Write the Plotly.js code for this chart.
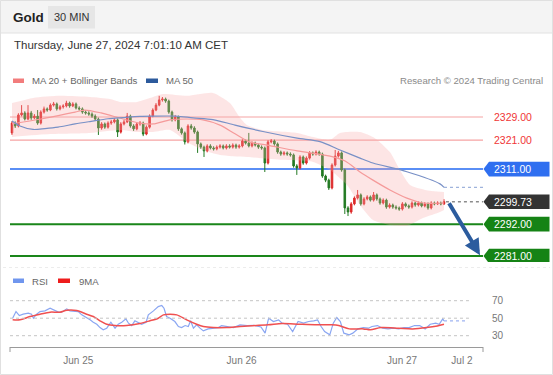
<!DOCTYPE html>
<html>
<head>
<meta charset="utf-8">
<script src="https://cdn.plot.ly/plotly-3.0.1.min.js"></script>
<style>
html,body{margin:0;padding:0;background:#fff;}
#chart{width:553px;height:375px;}
</style>
</head>
<body>
<div id="chart"></div>
<script>
// ---------- DATA (30-min candles) ----------
const openP = [2323.5,2326.9,2325.9,2329.7,2330.4,2328.3,2330.4,2328.7,2329.3,2326.9,
2330.7,2331.8,2331.4,2333.1,2333.5,2331.8,2332.5,2332.8,2333.8,2332.8,
2333.5,2332.1,2331.8,2330.7,2330.4,2330.0,2329.3,2328.3,2325.2,2326.6,
2325.5,2326.9,2327.3,2328.0,2323.8,2326.6,2327.3,2329.3,2325.9,2324.9,
2326.6,2326.9,2323.1,2325.5,2329.3,2331.4,2333.1,2334.9,2335.2,2334.5,
2330.7,2328.0,2329.0,2324.9,2323.5,2320.4,2325.9,2325.2,2323.8,2319.7,
2318.6,2317.3,2319.0,2318.3,2318.0,2318.6,2319.0,2318.3,2319.0,2318.6,
2319.3,2318.6,2319.0,2320.7,2320.0,2319.0,2320.0,2319.3,2318.6,2318.3,
2313.1,2320.4,2320.7,2319.7,2316.9,2316.2,2316.6,2316.2,2315.9,2312.1,
2311.4,2315.2,2313.1,2314.8,2316.6,2316.2,2316.9,2316.2,2308.6,2307.2,
2304.5,2312.4,2315.5,2316.6,2310.7,2297.6,2296.2,2299.0,2301.0,2302.1,
2299.0,2300.7,2301.4,2300.3,2302.1,2300.7,2299.3,2300.3,2297.9,2298.6,
2297.9,2297.6,2297.2,2299.0,2298.3,2297.9,2299.3,2298.6,2299.3,2298.3,
2299.0,2297.6,2299.3,2299.0,2299.3,2299.0];
const highP = [2327.6,2327.5,2330.3,2333.1,2331.0,2333.1,2331.1,2330.0,2331.4,2331.3,
2332.6,2332.3,2333.7,2334.2,2334.0,2333.1,2333.4,2334.6,2334.3,2334.1,
2334.0,2332.7,2332.3,2331.3,2331.0,2330.6,2329.9,2328.8,2327.2,2327.1,
2327.5,2328.0,2328.6,2328.5,2327.2,2328.0,2330.4,2329.8,2326.5,2327.2,
2327.6,2327.4,2326.1,2329.9,2332.0,2333.8,2336.3,2335.9,2335.7,2335.0,
2331.2,2329.7,2329.5,2325.4,2324.0,2326.5,2326.6,2325.8,2324.3,2320.2,
2319.1,2319.6,2319.6,2318.9,2319.2,2319.6,2319.5,2319.6,2319.6,2319.9,
2319.8,2319.6,2321.3,2321.2,2323.5,2320.6,2320.5,2319.8,2319.2,2318.8,
2321.0,2321.4,2321.2,2320.2,2317.4,2317.2,2317.1,2316.8,2316.4,2312.7,
2315.8,2315.7,2315.4,2317.2,2317.1,2317.5,2317.4,2316.7,2309.1,2307.7,
2313.0,2317.6,2317.3,2317.1,2311.2,2298.2,2299.6,2301.6,2303.8,2302.6,
2301.3,2302.0,2301.9,2303.1,2302.6,2301.2,2300.9,2300.8,2299.2,2299.1,
2298.5,2298.1,2299.6,2299.5,2298.8,2299.9,2299.8,2299.9,2299.8,2299.6,
2299.5,2299.9,2299.8,2299.9,2299.8,2300.6];
const lowP = [2322.8,2325.2,2325.4,2329.2,2327.8,2327.9,2328.0,2328.2,2326.3,2326.4,
2330.2,2330.8,2331.0,2332.6,2331.2,2331.3,2331.9,2332.3,2332.2,2332.4,
2331.6,2331.2,2330.1,2329.8,2329.4,2328.7,2327.6,2322.8,2324.6,2324.9,
2325.0,2326.3,2326.8,2322.1,2323.3,2326.1,2326.9,2325.3,2324.2,2324.4,
2326.0,2322.4,2322.7,2325.0,2328.9,2331.0,2332.7,2334.3,2333.9,2330.1,
2327.4,2327.5,2324.2,2322.9,2319.5,2319.9,2324.6,2323.2,2316.6,2318.0,
2315.2,2316.8,2317.8,2317.4,2317.5,2318.1,2317.8,2317.8,2318.1,2318.1,
2318.0,2318.1,2318.5,2319.5,2318.5,2318.5,2318.8,2318.0,2317.7,2310.0,
2312.6,2319.9,2319.1,2316.3,2315.6,2315.7,2315.6,2315.3,2311.5,2309.0,
2310.9,2312.5,2312.6,2314.3,2315.6,2315.7,2315.6,2308.0,2306.5,2303.8,
2304.0,2311.9,2315.0,2310.1,2295.5,2294.8,2295.6,2298.5,2300.5,2298.4,
2298.5,2300.2,2299.8,2299.8,2300.1,2298.7,2298.8,2297.3,2297.4,2297.3,
2297.0,2296.6,2296.7,2297.8,2297.3,2297.4,2298.0,2298.1,2297.8,2297.8,
2297.0,2297.1,2298.5,2298.6,2298.5,2298.6];
const closeP = [2326.9,2325.9,2329.7,2330.4,2328.3,2330.4,2328.7,2329.3,2326.9,2330.7,
2331.8,2331.4,2333.1,2333.5,2331.8,2332.5,2332.8,2333.8,2332.8,2333.5,
2332.1,2331.8,2330.7,2330.4,2330.0,2329.3,2328.3,2325.2,2326.6,2325.5,
2326.9,2327.3,2328.0,2323.8,2326.6,2327.3,2329.3,2325.9,2324.9,2326.6,
2326.9,2323.1,2325.5,2329.3,2331.4,2333.1,2334.9,2335.2,2334.5,2330.7,
2328.0,2329.0,2324.9,2323.5,2320.4,2325.9,2325.2,2323.8,2319.7,2318.6,
2317.3,2319.0,2318.3,2318.0,2318.6,2319.0,2318.3,2319.0,2318.6,2319.3,
2318.6,2319.0,2320.7,2320.0,2319.0,2320.0,2319.3,2318.6,2318.3,2313.1,
2320.4,2320.7,2319.7,2316.9,2316.2,2316.6,2316.2,2315.9,2312.1,2311.4,
2315.2,2313.1,2314.8,2316.6,2316.2,2316.9,2316.2,2308.6,2307.2,2304.5,
2312.4,2315.5,2316.6,2310.7,2297.6,2296.2,2299.0,2301.0,2302.1,2299.0,
2300.7,2301.4,2300.3,2302.1,2300.7,2299.3,2300.3,2297.9,2298.6,2297.9,
2297.6,2297.2,2299.0,2298.3,2297.9,2299.3,2298.6,2299.3,2298.3,2299.0,
2297.6,2299.3,2299.0,2299.3,2299.0,2299.73];

// Indicators (candle index, value)
const ma20Idx = [0,9.1,19.7,22.8,27.8,34.7,40,44.1,49.4,54.7,59.7,65,69.7,74.4,79.7,89.1,99.4,104.1,108.75,112.8,118.1,123.4,128.4,135];
const ma20Val = [2326.6,2328.3,2330.7,2331.4,2330.4,2328.3,2326.9,2326.6,2328.0,2328.3,2328.0,2326.2,2323.2,2320.3,2319.3,2317.3,2315.5,2313.8,2310.0,2307.2,2303.8,2301.0,2299.3,2299.3];
const bbUpIdx = [0,6.6,15,24.4,30.6,33.75,39.1,44.1,47.2,54.7,62.8,68.1,71.25,73.4,78.4,89.1,94.1,99.4,102.5,108.75,113.4,118.1,121.25,124.4,129.1,135];
const bbUpVal = [2333.8,2335.6,2336.3,2335.9,2335.2,2334.2,2334.2,2335.9,2336.9,2336.3,2337.3,2333.8,2328.7,2326.2,2324.5,2323.5,2322.1,2321.1,2323.5,2323.8,2321.7,2316.9,2310.7,2305.5,2303.8,2303.1];
const bbLoIdx = [0,11.9,24.4,33.75,39.1,44.1,49.4,54.7,59.7,65,73.4,83.75,94.1,99.4,104.7,108.75,112.8,118.1,123.4,128.4,133.75,135];
const bbLoVal = [2322.1,2323.1,2323.5,2324.5,2323.8,2323.8,2324.5,2320.4,2317.6,2315.9,2315.2,2314.2,2313.5,2310.7,2305.5,2298.6,2293.4,2291.7,2291.4,2294.1,2296.2,2296.9];
const ma50Idx = [0,2.5,6.6,10.3,14.4,19.7,24.7,30,34.7,40,44.1,51.25,56.6,62.8,69.7,78.4,89.1,96.25,102.5,108.75,112.8,123.4,133.75,135];
const ma50Val = [2327.6,2325.9,2324.7,2325.0,2325.5,2326.6,2327.5,2328.4,2328.8,2329.2,2329.3,2329.3,2328.7,2328.1,2326.2,2324.0,2321.7,2320.5,2317.6,2314.8,2313.1,2310.1,2305.9,2304.7];

const rsiIdx = [0.2,1.25,2.3,3.5,5.1,6.1,6.7,7.7,8.75,10.3,11.9,12.9,14.5,15.5,17.1,18.1,19.7,20.7,21.8,23.3,
24.4,25.4,26.5,27.5,28.5,29.6,30.9,32.2,33.2,34.3,35.6,36.4,37.4,38.4,39.5,40.5,41.9,42.6,44.2,45.7,
46.8,47.5,48.3,49.4,50.9,52,53,54.1,55.1,55.8,56.7,57.7,58.75,59.8,61.3,62.9,64.5,65.5,67.1,69.2,
71.25,73.5,75.6,77.8,79.1,80.2,81.7,83.3,84.4,86.1,87.7,89.4,91.1,92.7,94.3,95.5,96.6,97.7,99.3,100.4,
101.5,102.6,103.7,105.4,106.5,108.1,109.8,111.4,112.5,114.2,115.8,117.5,119.2,120.8,122.5,124.1,125.8,127.4,129.1,130.7,
132.4,133.5,134.6,135];
const rsiVal = [50,57.6,53,54.6,55.7,54.6,50,54.6,57.6,58.4,61.4,59.5,56.9,56.9,60.7,58.4,57.6,57.6,53.8,50.8,
48.1,45.4,43.1,39.3,36.7,38.6,45.4,38.6,43.1,45.4,49.2,44.3,41.6,47,45.4,43.1,45.4,53.8,58.4,63.3,
64.5,61.4,51.9,50,46.2,40.5,39.3,41.6,40.5,47,38.6,42.4,38.6,35.5,37.8,38.6,39.3,41.6,40.5,39.3,
42.4,41.6,41.9,40,32.9,50,46.2,48.1,44.3,43.1,34.8,46.2,44.3,46.2,47,48.1,40.5,34.8,31,44.3,
50.8,46.2,32.9,31,32.9,37.8,39.3,38.6,40.5,41.6,38.6,37.8,38.6,37.8,39.3,39.3,41.6,41.6,37.8,43.1,
44.3,43.1,49.2,47];
const ma9Idx = [0.2,2.5,5.6,8.75,11.9,15,17.1,20.2,23.3,25.4,27.5,29.6,32.2,35.8,40,43.1,45.7,47.3,49.4,51.5,
54.6,57.7,59.8,62.9,67.1,71.25,80,84.4,89.9,95.5,99.9,102.1,105.4,109.8,112,115.3,120.8,125.2,129.6,132.9,135];
const ma9Val = [48.1,48.1,51.9,54.6,56.9,56.9,59.1,58.8,54.6,51.9,47,43.1,41.6,41.6,43.9,47,50,53.8,54.6,53.8,
48.1,43.1,40.5,39.3,39.3,40.5,42.4,43.9,43.1,42.4,42.4,41.6,37.8,37.8,36.7,39.3,38.6,37.8,39.3,41.2,43.1];

const tickIdx = [20.7, 71.75, 121.9, 140.6];
const tickLabels = ['Jun 25', 'Jun 26', 'Jun 27', 'Jul 2'];

const levelsRed = [2329.00, 2321.00];
const levelBlue = 2311.00;
const levelsGreen = [2292.00, 2281.00];
const lastPrice = 2299.73;
const rsiLevels = [70, 50, 30];
const targetIdx = 146.25;

// ---------- LAYOUT HELPERS ----------
const W = 553, H = 375;
const px = x => x / W;
const py = y => 1 - y / H;
const FONT = 'Liberation Sans, Arial, sans-serif';
const candleIdx = closeP.map((_, i) => i);
const xRange = [-0.625, 147.1875];
const yRange = [2278.93, 2338.32];
const pxPerPrice = 172 / (yRange[1] - yRange[0]);

const traces = [];
// Bollinger band fill
traces.push({type:'scatter', mode:'lines', x:bbUpIdx, y:bbUpVal, line:{width:0, shape:'spline', smoothing:0.6}, hoverinfo:'skip', xaxis:'x', yaxis:'y'});
traces.push({type:'scatter', mode:'lines', x:bbLoIdx, y:bbLoVal, line:{width:0, shape:'spline', smoothing:0.6}, fill:'tonexty', fillcolor:'rgba(250,170,170,0.30)', hoverinfo:'skip', xaxis:'x', yaxis:'y'});
// MA 20
traces.push({type:'scatter', mode:'lines', x:ma20Idx, y:ma20Val, line:{color:'#f59a9a', width:1.2, shape:'spline', smoothing:0.8}, hoverinfo:'skip', xaxis:'x', yaxis:'y'});
// MA 50
traces.push({type:'scatter', mode:'lines', x:ma50Idx, y:ma50Val, line:{color:'#7890c6', width:1.2, shape:'spline', smoothing:0.8}, hoverinfo:'skip', xaxis:'x', yaxis:'y'});
// Candles
traces.push({type:'candlestick', x:candleIdx, open:openP, high:highP, low:lowP, close:closeP,
  increasing:{line:{color:'#dd2a2a', width:1}, fillcolor:'#dd2a2a'},
  decreasing:{line:{color:'#237a23', width:1}, fillcolor:'#237a23'},
  whiskerwidth:0, hoverinfo:'skip', xaxis:'x', yaxis:'y'});
// RSI
traces.push({type:'scatter', mode:'lines', x:rsiIdx, y:rsiVal, line:{color:'#8aa6f2', width:1.2}, hoverinfo:'skip', xaxis:'x', yaxis:'y2'});
traces.push({type:'scatter', mode:'lines', x:ma9Idx, y:ma9Val, line:{color:'#f05050', width:1.5, shape:'spline', smoothing:0.8}, hoverinfo:'skip', xaxis:'x', yaxis:'y2'});

const shapes = [];
const ann = [];
// header
shapes.push({type:'rect', xref:'paper', yref:'paper', x0:0, x1:1, y0:py(33), y1:1, fillcolor:'#f4f4f4', line:{width:0}, layer:'below'});
shapes.push({type:'line', xref:'paper', yref:'paper', x0:0, x1:1, y0:py(33), y1:py(33), line:{color:'#e2e2e2', width:1}});
shapes.push({type:'rect', xref:'paper', yref:'paper', x0:px(48), x1:px(95), y0:py(28.5), y1:py(6), fillcolor:'#e6e6e6', line:{width:0}});
shapes.push({type:'rect', xref:'paper', yref:'paper', x0:px(0.5), x1:px(552.5), y0:py(374.5), y1:py(0.5), line:{color:'#e0e0e0', width:1}});
ann.push({xref:'paper', yref:'paper', x:px(11), y:py(17.5), xanchor:'left', yanchor:'middle', text:'<b>Gold</b>', showarrow:false, font:{family:FONT, size:13.5, color:'#222'}});
ann.push({xref:'paper', yref:'paper', x:px(71.5), y:py(17.5), xanchor:'center', yanchor:'middle', text:'30 MIN', showarrow:false, font:{family:FONT, size:11, color:'#333'}});
ann.push({xref:'paper', yref:'paper', x:px(12), y:py(45), xanchor:'left', yanchor:'middle', text:'Thursday, June 27, 2024 7:01:10 AM CET', showarrow:false, font:{family:FONT, size:11.5, color:'#333'}});
// legend
shapes.push({type:'rect', xref:'paper', yref:'paper', x0:px(13), x1:px(24), y0:py(83), y1:py(78.5), fillcolor:'#f27c7c', line:{width:0}});
ann.push({xref:'paper', yref:'paper', x:px(30), y:py(81), xanchor:'left', yanchor:'middle', text:'MA 20 + Bollinger Bands', showarrow:false, font:{family:FONT, size:9.6, color:'#666'}});
shapes.push({type:'rect', xref:'paper', yref:'paper', x0:px(146), x1:px(158), y0:py(83), y1:py(78.5), fillcolor:'#2c5a9c', line:{width:0}});
ann.push({xref:'paper', yref:'paper', x:px(164), y:py(81), xanchor:'left', yanchor:'middle', text:'MA 50', showarrow:false, font:{family:FONT, size:9.6, color:'#666'}});
ann.push({xref:'paper', yref:'paper', x:px(545), y:py(81), xanchor:'right', yanchor:'middle', text:'Research © 2024 Trading Central', showarrow:false, font:{family:FONT, size:9.6, color:'#8a8a8a'}});
// RSI legend
shapes.push({type:'rect', xref:'paper', yref:'paper', x0:px(13), x1:px(24), y0:py(283), y1:py(278.5), fillcolor:'#7096ee', line:{width:0}});
ann.push({xref:'paper', yref:'paper', x:px(30), y:py(281), xanchor:'left', yanchor:'middle', text:'RSI', showarrow:false, font:{family:FONT, size:9.6, color:'#666'}});
shapes.push({type:'rect', xref:'paper', yref:'paper', x0:px(58), x1:px(70), y0:py(283), y1:py(278.5), fillcolor:'#ee1c1c', line:{width:0}});
ann.push({xref:'paper', yref:'paper', x:px(77), y:py(281), xanchor:'left', yanchor:'middle', text:'9MA', showarrow:false, font:{family:FONT, size:9.6, color:'#666'}});

// level lines
levelsRed.forEach(v => {
  shapes.push({type:'line', xref:'x', yref:'y', x0:xRange[0], x1:xRange[1], y0:v, y1:v, line:{color:'#f6a3a3', width:1.2}, layer:'below'});
  ann.push({xref:'paper', yref:'y', x:px(492), y:v, xanchor:'left', yanchor:'middle', text:v.toFixed(2), showarrow:false, font:{family:FONT, size:10.5, color:'#f03636'}});
});
shapes.push({type:'line', xref:'x', yref:'y', x0:xRange[0], x1:xRange[1], y0:levelBlue, y1:levelBlue, line:{color:'#5a8ef5', width:2}, layer:'below'});
levelsGreen.forEach(v => {
  shapes.push({type:'line', xref:'x', yref:'y', x0:xRange[0], x1:xRange[1], y0:v, y1:v, line:{color:'#1a861a', width:2}, layer:'below'});
});
function badge(v, color) {
  const h = 7.3 / pxPerPrice;
  const xa = px(483.5), xb = px(489), xc = px(549.5);
  shapes.push({type:'path', xref:'paper', yref:'y', path:`M ${xa},${v} L ${xb},${v+h} L ${xc},${v+h} L ${xc},${v-h} L ${xb},${v-h} Z`, fillcolor:color, line:{width:0}});
  ann.push({xref:'paper', yref:'y', x:px(492), y:v, xanchor:'left', yanchor:'middle', text:v.toFixed(2), showarrow:false, font:{family:FONT, size:10.5, color:'#ffffff'}});
}
badge(levelBlue, '#2f6ff0');
badge(lastPrice, '#333333');
levelsGreen.forEach(v => badge(v, '#158315'));

// dotted projections
shapes.push({type:'line', xref:'x', yref:'y', x0:ma50Idx[ma50Idx.length-1], x1:xRange[1], y0:ma50Val[ma50Val.length-1], y1:ma50Val[ma50Val.length-1], line:{color:'#9fb3dc', width:1.3, dash:'dot'}});
shapes.push({type:'line', xref:'x', yref:'y', x0:candleIdx[candleIdx.length-1]+0.6, x1:xRange[1], y0:lastPrice, y1:lastPrice, line:{color:'#8c8c8c', width:1.3, dash:'dot'}});

// arrow to target
ann.push({xref:'x', yref:'y', axref:'x', ayref:'y', x:targetIdx, y:levelsGreen[1] + 0.3, ax:candleIdx[candleIdx.length-1] + 1.3, ay:lastPrice,
  showarrow:true, arrowhead:2, arrowsize:0.8, arrowwidth:4, arrowcolor:'#2c5c9e', text:''});

// RSI grid + labels
rsiLevels.forEach(v => {
  shapes.push({type:'line', xref:'x', yref:'y2', x0:xRange[0], x1:142.8, y0:v, y1:v, line:{color:'#c4c4c4', width:1, dash:'dot'}});
  ann.push({xref:'paper', yref:'y2', x:px(497.5), y:v, xanchor:'center', yanchor:'middle', text:String(v), showarrow:false, font:{family:FONT, size:10, color:'#777'}});
});
shapes.push({type:'line', xref:'x', yref:'y2', x0:rsiIdx[rsiIdx.length-1], x1:142, y0:rsiVal[rsiVal.length-1], y1:rsiVal[rsiVal.length-1], line:{color:'#9fb4f2', width:1.3, dash:'dot'}});
// axis end ticks
[10, 483].forEach(xp => {
  shapes.push({type:'line', xref:'paper', yref:'paper', x0:px(xp), x1:px(xp), y0:py(347), y1:py(352), line:{color:'#9a9a9a', width:1}});
});
// panel separator
shapes.push({type:'line', xref:'paper', yref:'paper', x0:px(3), x1:px(550), y0:py(267.5), y1:py(267.5), line:{color:'#ececec', width:1, dash:'dot'}});

const rsiBottomPx = 347, rsiTopPx = 290;
const rsiPerPx = 0.875;
const layout = {
  width: W, height: H,
  margin: {l:0, r:0, t:0, b:0},
  paper_bgcolor: '#ffffff', plot_bgcolor: 'rgba(0,0,0,0)',
  showlegend: false, hovermode: false, dragmode: false,
  font: {family: FONT},
  xaxis: {domain:[px(10), px(483)], range:xRange, anchor:'y2', rangeslider:{visible:false},
    showgrid:false, zeroline:false, showline:true, linecolor:'#9a9a9a', linewidth:1,
    tickmode:'array', tickvals:tickIdx, ticktext:tickLabels, ticks:'outside', ticklen:4, tickcolor:'rgba(0,0,0,0)',
    tickfont:{family:FONT, size:10, color:'#777'}, fixedrange:true},
  yaxis: {domain:[py(262), py(90)], range:yRange, visible:false, fixedrange:true},
  yaxis2: {domain:[py(rsiBottomPx), py(rsiTopPx)], range:[30 - (rsiBottomPx-335.7)/rsiPerPx, 70 + (300.7-rsiTopPx)/rsiPerPx], visible:false, fixedrange:true},
  shapes: shapes,
  annotations: ann
};
Plotly.newPlot('chart', traces, layout, {displayModeBar:false, staticPlot:true});
</script>
</body>
</html>
